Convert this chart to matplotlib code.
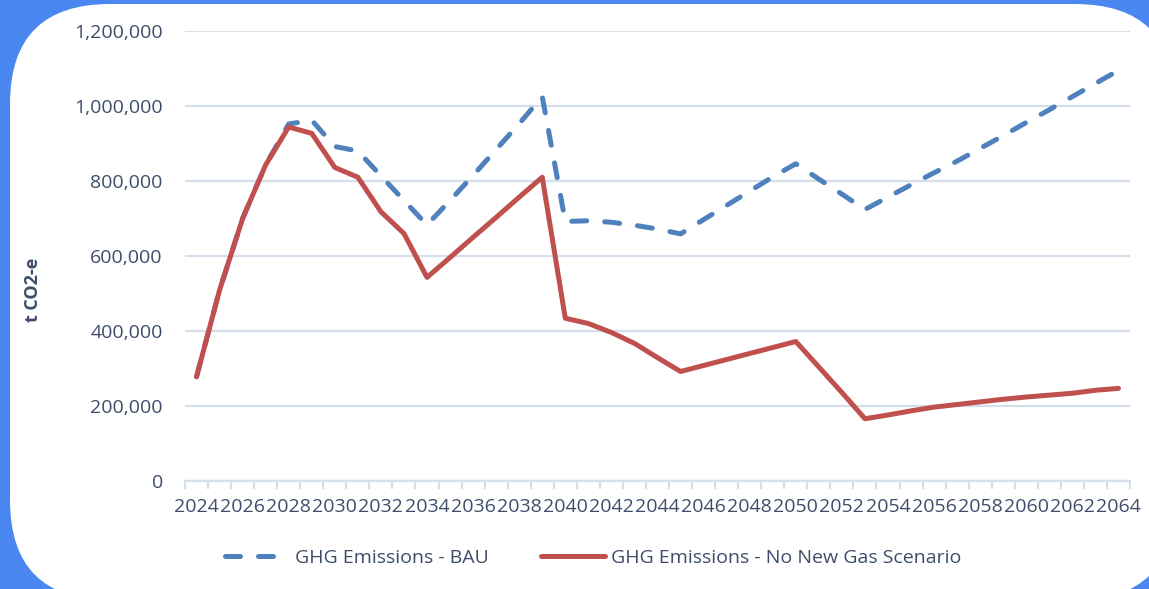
import matplotlib
matplotlib.use("Agg")
import matplotlib.pyplot as plt
from matplotlib.patches import FancyBboxPatch
from matplotlib.transforms import IdentityTransform
from matplotlib.ticker import FuncFormatter, MultipleLocator, FixedLocator

years = [2024, 2025, 2026, 2027, 2028, 2029, 2030, 2031, 2032, 2033,
         2034, 2035, 2036, 2037, 2038, 2039, 2040, 2041, 2042, 2043,
         2044, 2045, 2046, 2047, 2048, 2049, 2050, 2051, 2052, 2053,
         2054, 2055, 2056, 2057, 2058, 2059, 2060, 2061, 2062, 2063, 2064]

bau = [278000, 509000, 700000, 843000, 952000, 962000, 892000, 880000, 814000, 748000,
       683000, 748000, 815000, 884000, 953000, 1025000, 692000, 694000, 690000, 682000,
       672000, 659000, 697000, 735000, 773000, 811000, 846000, 805000, 765000, 724000,
       757000, 790000, 822000, 853000, 887000, 921000, 956000, 990000, 1025000, 1060000, 1095000]

no_new_gas = [278000, 509000, 700000, 843000, 944000, 927000, 836000, 810000, 718000, 660000,
              543000, 596000, 650000, 703000, 757000, 810000, 434000, 420000, 396000, 367000,
              329000, 292000, 308000, 324000, 340000, 356000, 372000, 304000, 236000, 166000,
              176000, 187000, 197000, 204000, 211000, 218000, 224000, 229000, 234000, 242000, 247000]

series_names = ["GHG Emissions - BAU", "GHG Emissions - No New Gas Scenario"]
y_label = "t CO2-e"

BLUE = "#4f81bd"
RED = "#c0504d"
GRID = "#d5dfeb"
TEXT = "#3d4d6a"
BG = "#4a87f0"

plt.rcParams["font.family"] = ["Open Sans", "DejaVu Sans"]

fig = plt.figure(figsize=(11.49, 5.89), dpi=100)
fig.patch.set_facecolor(BG)

card = FancyBboxPatch((10, -11), 1165, 596,
                      boxstyle="round,pad=0,rounding_size=100",
                      facecolor="white", edgecolor="none", zorder=-10)
card.set_transform(IdentityTransform())
fig.patches.append(card)

ax = fig.add_axes([185 / 1149, 1 - 481 / 589, (1130 - 185) / 1149, (481 - 31) / 589])
ax.set_zorder(2)
ax.set_facecolor("none")

x = list(range(len(years)))
ax.plot(x, bau, color=BLUE, lw=3.6, dashes=(3, 3.6), dash_capstyle="round",
        solid_capstyle="round", label=series_names[0], zorder=3)
ax.plot(x, no_new_gas, color=RED, lw=3.6, solid_capstyle="round",
        solid_joinstyle="round", label=series_names[1], zorder=4)

ax.set_xlim(-0.5, len(years) - 0.5)
ax.set_ylim(0, 1200000)
ax.yaxis.set_major_locator(MultipleLocator(200000))
ax.yaxis.set_major_formatter(FuncFormatter(lambda v, p: f"{int(v):,}"))
ax.grid(axis="y", color=GRID, lw=1.6, zorder=1)
ax.set_axisbelow(True)

ax.set_xticks(x[::2])
ax.set_xticklabels([str(y) for y in years[::2]])
ax.xaxis.set_minor_locator(FixedLocator([i - 0.5 for i in range(len(years) + 1)]))
ax.tick_params(axis="x", which="major", length=0, pad=12, labelsize=14, labelcolor=TEXT)
ax.tick_params(axis="x", which="minor", length=6, width=1.5, color=GRID, direction="out")
ax.tick_params(axis="y", length=0, pad=16, labelsize=14, labelcolor=TEXT)

for s in ["top", "right", "left"]:
    ax.spines[s].set_visible(False)
ax.spines["bottom"].set_color(GRID)
ax.spines["bottom"].set_linewidth(1.6)

fig.text(33 / 1149, 1 - 290 / 589, y_label, rotation=90, ha="center", va="center",
         fontsize=13, fontweight="bold", color=TEXT)

leg = fig.legend(loc="center", bbox_to_anchor=(593 / 1149, 1 - 558 / 589), ncol=2,
                 frameon=False, fontsize=14, handlelength=3.3, handletextpad=0.3,
                 columnspacing=2.7, labelcolor=TEXT)

fig.savefig("out.png", dpi=100, facecolor=fig.get_facecolor())
